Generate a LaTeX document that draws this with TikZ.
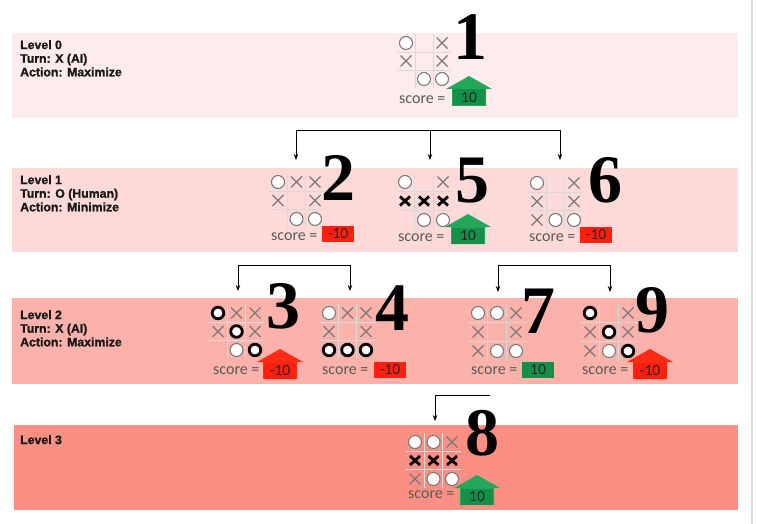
\documentclass[tikz,border=0pt]{standalone}
\usepackage{fontspec}
\setmainfont{Liberation Serif}
\newfontfamily\scorefont{Carlito}
\newfontfamily\labelfont[FakeBold=1.2]{Liberation Sans}
\usetikzlibrary{arrows.meta}
\definecolor{bandA}{HTML}{FDECEB}
\definecolor{bandB}{HTML}{FDDAD7}
\definecolor{bandC}{HTML}{FBB2AA}
\definecolor{bandD}{HTML}{FB8F83}
\definecolor{upgreen}{HTML}{25A75A}
\definecolor{boxgreen}{HTML}{15904A}
\definecolor{upred}{HTML}{FF2A14}
\definecolor{boxred}{HTML}{FF1E10}
\definecolor{markgray}{HTML}{7A7A7A}
\definecolor{scoregray}{HTML}{5A5A5A}
\tikzset{
  band/.style={draw=none},
  lvl/.style={font=\labelfont\bfseries\fontsize{12.3}{13.6}\selectfont, text=black!90, align=left, anchor=north west, inner sep=0},
  gridln/.style={draw=black!15, line width=0.8},
  xmark/.style={draw=markgray, line width=1.1},
  bxmark/.style={draw=black, line width=2.8},
  omark/.style={draw=markgray, fill=white, line width=1.1},
  bomark/.style={draw=black, fill=white, line width=2.8},
  num/.style={font=\fontsize{68}{68}\selectfont\bfseries, inner sep=0, anchor=base west},
  scoretxt/.style={font=\scorefont\fontsize{16}{16}\selectfont, text=scoregray, inner sep=0, anchor=base west},
  scorebox/.style={font=\scorefont\fontsize{15.5}{15.5}\selectfont, text=black!85, inner sep=0, minimum width=32, minimum height=16},
  conn/.style={draw=black, line width=0.8},
  connarrow/.style={conn, -{Stealth[length=6pt,width=4.5pt]}}
}
\newcommand\markx{\draw[xmark] (-5.5,-5.5) -- (5.5,5.5) (-5.5,5.5) -- (5.5,-5.5);}
\newcommand\markbx{\draw[bxmark] (-5,-4.5) -- (5,4.5) (-5,4.5) -- (5,-4.5);}
\newcommand\marko{\draw[omark] (0,0) circle[radius=6.5];}
\newcommand\markbo{\draw[bomark] (0,0) circle[radius=5.8];}
\newcommand\marke{}
\newcommand\drawboard[4]{%
  \begin{scope}[shift={(#1,#2)}]
    \draw[gridln] (0.5*#3,-0.5*#3) -- (0.5*#3,2.5*#3) (1.5*#3,-0.5*#3) -- (1.5*#3,2.5*#3)
                  (-0.5*#3,0.5*#3) -- (2.5*#3,0.5*#3) (-0.5*#3,1.5*#3) -- (2.5*#3,1.5*#3);
    \foreach \cc [count=\ii from 0] in {#4} {
      \pgfmathtruncatemacro\bcol{mod(\ii,3)}
      \pgfmathtruncatemacro\brow{div(\ii,3)}
      \begin{scope}[shift={(\bcol*#3,\brow*#3)}]\csname mark\cc\endcsname\end{scope}
    }
  \end{scope}}
% house arrow: #1 name, #2 cx, #3 apex y, #4 arrow colour, #5 box colour, #6 text
\newcommand\house[6]{%
  \fill[#4] (#2-23,#3+13) -- (#2,#3) -- (#2+23,#3+13) -- (#2+17,#3+13) -- (#2+17,#3+30)
            -- (#2-17,#3+30) -- (#2-17,#3+13) -- cycle;
  \node[scorebox, fill=#5] (#1) at (#2,#3+21.5) {#6};}
\begin{document}
\begin{tikzpicture}[x=1pt,y=-1pt]
\useasboundingbox (0,0) rectangle (757,524);
\fill[white] (0,0) rectangle (757,524);
% bands
\fill[bandA] (12,33) rectangle (738,118);
\fill[bandB] (12,168) rectangle (738,252);
\fill[bandC] (12,298) rectangle (738,384);
\fill[bandD] (14,425) rectangle (738,510);
\draw[black!15, line width=1.5] (752,0) -- (752,524);
% level labels
\node[lvl] (l0) at (20,40) {Level 0\\Turn: X (AI)\\Action: Maximize};
\node[lvl] (l1) at (20,175) {Level 1\\Turn: O (Human)\\Action: Minimize};
\node[lvl] (l2) at (20,310) {Level 2\\Turn: X (AI)\\Action: Maximize};
\node[lvl] (l3) at (20,435) {Level 3};
% connectors
\coordinate (t2) at (296,160); \coordinate (t5) at (430,160); \coordinate (t6) at (560,160);
\coordinate (h2) at (296,130); \coordinate (h5) at (430,130); \coordinate (h6) at (560,130);
\draw[conn] (h2) -- (h6);
\draw[connarrow] (h2) -- (t2);
\draw[connarrow] (h5) -- (t5);
\draw[connarrow] (h6) -- (t6);
\coordinate (h3) at (238,265); \coordinate (h4) at (350,265);
\coordinate (t3) at (238,291); \coordinate (t4) at (350,291);
\draw[connarrow] (h3) -- (t3);
\draw[connarrow] (h4) -- (t4);
\draw[conn] (h3) -- (h4);
\coordinate (h7) at (498,265); \coordinate (h9) at (610,265);
\coordinate (t7) at (498,292); \coordinate (t9) at (610,292);
\draw[conn] (h7) -- (h9);
\draw[connarrow] (h7) -- (t7);
\draw[connarrow] (h9) -- (t9);
\coordinate (h8) at (435,395); \coordinate (e8) at (490,395); \coordinate (t8) at (435,421);
\draw[conn] (e8) -- (h8);
\draw[connarrow] (h8) -- (t8);
% boards
\drawboard{406}{43}{18}{o,e,x,x,e,x,e,o,o}
\drawboard{278}{182}{18.5}{o,x,x,x,e,x,e,o,o}
\drawboard{405}{182}{19}{o,e,x,bx,bx,bx,e,o,o}
\drawboard{537}{183}{18.5}{o,e,x,x,e,x,x,o,o}
\drawboard{218}{313}{18.5}{bo,x,x,x,bo,x,e,o,bo}
\drawboard{329}{313}{18.5}{o,x,x,x,e,x,bo,bo,bo}
\drawboard{478}{313}{19}{o,o,x,x,e,x,x,o,o}
\drawboard{590}{313}{19}{bo,e,x,x,bo,x,x,o,bo}
\drawboard{415}{442}{18.5}{o,o,x,bx,bx,bx,x,o,o}
% numbers
\node[num] (n1) at (453,60) {1};
\node[num] (n2) at (321,200) {2};
\node[num] (n5) at (455,202) {5};
\node[num] (n6) at (588,202) {6};
\node[num] (n3) at (266,328) {3};
\node[num] (n4) at (375,330) {4};
\node[num] (n7) at (521,333) {7};
\node[num] (n9) at (635,332) {9};
\node[num] (n8) at (465,455) {8};
% scores
\node[scoretxt] (s1) at (399,104) {score =};
\house{b1}{469}{76}{upgreen}{boxgreen}{10}
\node[scoretxt] (s2) at (271,240) {score =};
\node[scorebox, fill=boxred] (b2) at (338,234) {-10};
\node[scoretxt] (s5) at (398,241) {score =};
\house{b5}{468}{214}{upgreen}{boxgreen}{10}
\node[scoretxt] (s6) at (529,241) {score =};
\node[scorebox, fill=boxred] (b6) at (596,235) {-10};
\node[scoretxt] (s3) at (213,374) {score =};
\house{b3}{280}{349}{upred}{boxred}{-10}
\node[scoretxt] (s4) at (322,374) {score =};
\node[scorebox, fill=boxred] (b4) at (390,370) {-10};
\node[scoretxt] (s7) at (471,374) {score =};
\node[scorebox, fill=boxgreen] (b7) at (538,370) {10};
\node[scoretxt] (s9) at (582,374) {score =};
\house{b9}{650}{349}{upred}{boxred}{-10}
\node[scoretxt] (s8) at (408,498) {score =};
\house{b8}{477}{475}{upgreen}{boxgreen}{10}
\end{tikzpicture}
\end{document}
